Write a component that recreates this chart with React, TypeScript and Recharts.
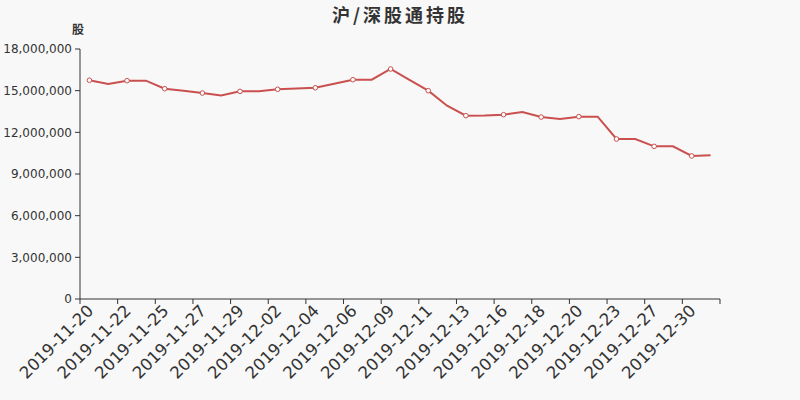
import React from 'react';
import { LineChart, Line, XAxis, YAxis } from 'recharts';

const dates = [
  '2019-11-20', '2019-11-21', '2019-11-22', '2019-11-24', '2019-11-25', '2019-11-26',
  '2019-11-27', '2019-11-28', '2019-11-29', '2019-12-01', '2019-12-02', '2019-12-03',
  '2019-12-04', '2019-12-05', '2019-12-06', '2019-12-08', '2019-12-09', '2019-12-10',
  '2019-12-11', '2019-12-12', '2019-12-13', '2019-12-15', '2019-12-16', '2019-12-17',
  '2019-12-18', '2019-12-19', '2019-12-20', '2019-12-22', '2019-12-23', '2019-12-24',
  '2019-12-27', '2019-12-29', '2019-12-30', '2019-12-31',
];

const holdings = [
  15750000, 15480000, 15720000, 15720000, 15140000, 15000000,
  14830000, 14660000, 14950000, 14950000, 15100000, 15150000,
  15210000, 15500000, 15790000, 15790000, 16560000, 15780000,
  15000000, 13920000, 13200000, 13220000, 13270000, 13460000,
  13100000, 12960000, 13130000, 13130000, 11520000, 11520000,
  10990000, 10990000, 10300000, 10350000,
];

const yTicks = [0, 3000000, 6000000, 9000000, 12000000, 15000000, 18000000];

const data = dates.map((d, i) => ({ date: d, value: holdings[i] }));

const RED = '#c9504e';
const AXIS = '#333';
const FONT = '"DejaVu Sans", sans-serif';

const XTick = (props: any) => {
  const { x, payload } = props;
  const half = 9.41;
  const step = half * 2;
  const axisY = 299;
  return (
    <g>
      <line x1={x - half} y1={axisY} x2={x - half} y2={axisY + 5} stroke={AXIS} />
      {payload.index === dates.length - 2 ? (
        <line x1={x + step + half} y1={axisY} x2={x + step + half} y2={axisY + 5} stroke={AXIS} />
      ) : null}
      <text
        x={x + 1}
        y={axisY + 9}
        transform={`rotate(-45, ${x + 1}, ${axisY + 9})`}
        textAnchor="end"
        dominantBaseline="central"
        fontSize={16.5}
        fontFamily={FONT}
        fill="#333"
      >
        {payload.value}
      </text>
    </g>
  );
};

const Dot = (props: any) => {
  const { cx, cy, index } = props;
  if (index % 2 !== 0) return <g key={`d${index}`} />;
  return <circle key={`d${index}`} cx={cx} cy={cy} r={2.3} fill="#fff" stroke={RED} strokeWidth={1} />;
};

export default function App() {
  return (
    <div style={{ position: 'absolute', left: 0, top: 0, width: 800, height: 400, background: '#f8f8f8' }}>
      <div
        style={{
          position: 'absolute',
          left: 0,
          top: 3,
          width: 800,
          textAlign: 'center',
          fontFamily: '"Noto Sans CJK SC", sans-serif',
          fontWeight: 'bold',
          fontSize: 18,
          letterSpacing: 3,
          color: '#333',
          lineHeight: '22px',
        }}
      >
        沪/深股通持股
      </div>
      <div
        style={{
          position: 'absolute',
          left: 72,
          top: 21,
          fontFamily: '"Noto Sans CJK SC", sans-serif',
          fontWeight: 'bold',
          fontSize: 12,
          color: '#333',
          lineHeight: '16px',
        }}
      >
        股
      </div>
      <LineChart
        width={800}
        height={400}
        data={data}
        margin={{ top: 49, right: 80, bottom: 0, left: 0 }}
        style={{ position: 'absolute', left: 0, top: 0 }}
      >
        <XAxis
          dataKey="date"
          height={101}
          interval={1}
          padding={{ left: 9.41, right: 9.41 }}
          tickLine={false}
          axisLine={{ stroke: AXIS }}
          tick={<XTick />}
        />
        <YAxis
          width={80}
          domain={[0, 18000000]}
          ticks={yTicks}
          interval={0}
          tickSize={5}
          tickMargin={3}
          tickLine={{ stroke: AXIS }}
          axisLine={{ stroke: AXIS }}
          tickFormatter={(v: number) => v.toLocaleString('en-US')}
          tick={{ fontSize: 12, fontFamily: FONT, fill: '#333' }}
        />
        <Line
          type="linear"
          dataKey="value"
          stroke={RED}
          strokeWidth={2}
          dot={<Dot />}
          activeDot={false}
          isAnimationActive={false}
        />
      </LineChart>
    </div>
  );
}
